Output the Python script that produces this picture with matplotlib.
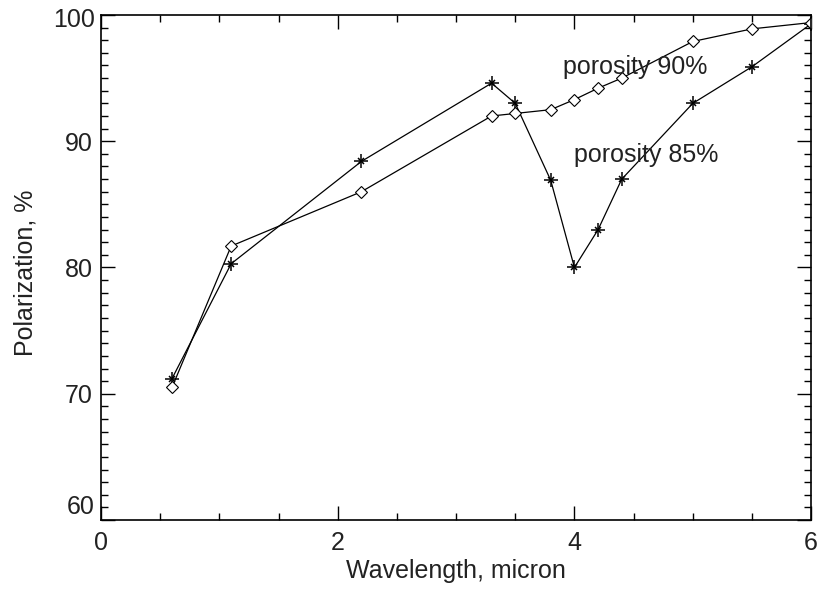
import matplotlib
matplotlib.use('Agg')
import matplotlib.pyplot as plt
from matplotlib.ticker import MultipleLocator, FuncFormatter

# wavelength, micron
wavelength = [0.6, 1.1, 2.2, 3.3, 3.5, 3.8, 4.0, 4.2, 4.4, 5.0, 5.5, 6.0]
# polarization, %
pol_85 = [71.2, 80.3, 88.4, 94.6, 93.0, 86.9, 80.0, 83.0, 87.0, 93.0, 95.9, 99.3]
pol_90 = [70.5, 81.7, 86.0, 92.0, 92.2, 92.5, 93.3, 94.2, 95.0, 97.9, 98.9, 99.4]

y_min, y_max = 60, 100

plt.rcParams['font.family'] = ['Liberation Sans', 'DejaVu Sans']
FS = 18
TXT = '#222222'

fig = plt.figure(figsize=(8.21, 5.92), dpi=100)
ax = fig.add_axes([0.123, 0.1216, 0.865, 0.8531])

# porosity 85% - asterisks (plus + small cross)
ax.plot(wavelength, pol_85, color='black', linewidth=0.9,
        marker='+', markersize=10, markeredgewidth=1.1)
ax.plot(wavelength, pol_85, linestyle='none', color='black',
        marker='x', markersize=4, markeredgewidth=1.1)
# porosity 90% - diamonds
ax.plot(wavelength, pol_90, color='black', linewidth=0.9,
        marker='D', markersize=6, markerfacecolor='white',
        markeredgecolor='black', markeredgewidth=0.8)

ax.text(3.9, 95.9, 'porosity 90%', fontsize=FS, va='center', ha='left', color=TXT)
ax.text(4.0, 88.9, 'porosity 85%', fontsize=FS, va='center', ha='left', color=TXT)

ax.set_xlim(0, 6)
ax.set_ylim(y_min, y_max)
ax.xaxis.set_major_locator(MultipleLocator(2))
ax.xaxis.set_minor_locator(MultipleLocator(0.5))
ax.yaxis.set_major_locator(MultipleLocator(10))
ax.yaxis.set_minor_locator(MultipleLocator(1))
# end labels are drawn by hand below, nudged inside the axis range
ax.yaxis.set_major_formatter(FuncFormatter(
    lambda v, p: '' if v in (y_min, y_max) else f'{v:.0f}'))

ax.tick_params(which='both', direction='in', top=True, right=True,
               labelsize=FS, width=1, labelcolor=TXT)
ax.tick_params(which='major', length=10)
ax.tick_params(which='minor', length=5)
ax.tick_params(axis='x', pad=8)
ax.tick_params(axis='y', pad=6)
for sp in ax.spines.values():
    sp.set_linewidth(1.2)

for val, dy in ((y_min, 9.5), (y_max, -3.5)):
    ax.annotate(f'{val}', xy=(0, val), xycoords=('axes fraction', 'data'),
                xytext=(-4.5, dy), textcoords='offset points',
                ha='right', va='center', fontsize=FS, color=TXT)

ax.set_xlabel('Wavelength, micron', fontsize=FS, labelpad=3, color=TXT)
ax.set_ylabel('Polarization, %', fontsize=FS, color=TXT)
ax.yaxis.set_label_coords(-0.090, 0.49)

fig.savefig('out.png', dpi=100)
